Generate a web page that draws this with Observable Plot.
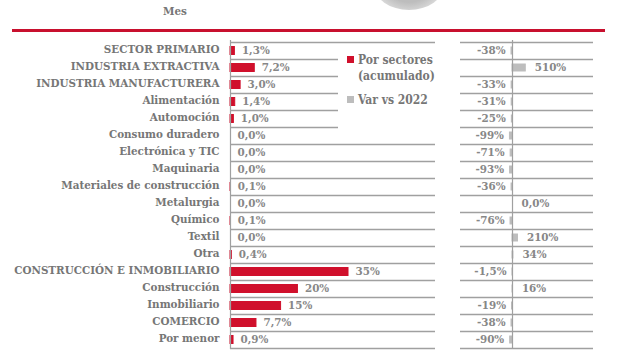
<!DOCTYPE html>
<html>
<head>
<meta charset="utf-8">
<script src="https://cdn.jsdelivr.net/npm/d3@7"></script>
<script src="https://cdn.jsdelivr.net/npm/@observablehq/plot@0.6"></script>
<style>
  html, body { margin: 0; padding: 0; background: #fff; }
  #wrap { position: relative; width: 620px; height: 350px; overflow: hidden; background: #fff;
    font-family: "DejaVu Serif Condensed", "DejaVu Serif", serif; font-weight: bold; color: #767676; }
  #mes { position: absolute; left: 163px; top: 4px; font-size: 11.5px; }
  #blob { position: absolute; left: 374px; top: -40px; width: 70px; height: 50px; border-radius: 50%;
    background: radial-gradient(ellipse at 50% 30%, #bdbdbd 55%, #d8d8d8 75%, #f2f2f2 100%); }
  #redline { position: absolute; left: 12px; top: 29px; width: 593px; height: 3px; background: #c8102e; }
  #legend { position: absolute; left: 338px; top: 50px; width: 100px; height: 86px; background: #fff; font-size: 12px; line-height: 18px; }
  #legend .sw { display: inline-block; width: 7px; height: 7px; margin-right: 4px; vertical-align: 1px; }
  #legend .row { position: absolute; left: 9px; white-space: nowrap; }
</style>
</head>
<body>
<div id="wrap">
  <div id="blob"></div>
  <div id="mes">Mes</div>
  <div id="redline"></div>
</div>
<script>
const categories = [
  "SECTOR PRIMARIO", "INDUSTRIA EXTRACTIVA", "INDUSTRIA MANUFACTURERA", "Alimentación",
  "Automoción", "Consumo duradero", "Electrónica y TIC", "Maquinaria",
  "Materiales de construcción", "Metalurgia", "Químico", "Textil", "Otra",
  "CONSTRUCCIÓN E INMOBILIARIO", "Construcción", "Inmobiliario", "COMERCIO", "Por menor"
];
const sectorValues = [1.3, 7.2, 3.0, 1.4, 1.0, 0.0, 0.0, 0.0, 0.1, 0.0, 0.1, 0.0, 0.4, 35, 20, 15, 7.7, 0.9];
const varValues = [-38, 510, -33, -31, -25, -99, -71, -93, -36, 0.0, -76, 210, 34, -1.5, 16, -19, -38, -90];
const seriesNames = ["Por sectores", "(acumulado)", "Var vs 2022"];

const RED = "#d0102c", GREY = "#bdbdbd", LINE = "#a0a0a0", TXT = "#767676", LBL = "#878787";
const FONT = '"DejaVu Serif Condensed", "DejaVu Serif", serif';
const FS = 11.5;
const fmt = v => (Math.abs(v) >= 10 ? String(Math.round(v)) : v.toFixed(1).replace(".", ",")) + "%";

const left = categories.map((c, i) => ({cat: c, v: sectorValues[i]}));
const right = categories.map((c, i) => ({cat: c, v: varValues[i]}));

const H = 350, MT = 40, MB = 1;
const step = (H - MT - MB) / categories.length;
const wrap = document.getElementById("wrap");
const style = {background: "transparent", fontFamily: FONT, fontWeight: "bold", overflow: "visible"};

const leftPlot = Plot.plot({
  width: 620, height: H, marginTop: MT, marginBottom: MB, marginLeft: 230, marginRight: 185,
  x: {domain: [0, 60.8], axis: null},
  y: {domain: categories, padding: 0, axis: null},
  style,
  marks: [
    Plot.ruleY(categories, {y: d => d, dy: -step / 2, x1: 0, x2: 60.8, stroke: LINE, strokeWidth: 1.5}),
    Plot.ruleY(categories.slice(-1), {y: d => d, dy: step / 2, x1: 0, x2: 60.8, stroke: LINE, strokeWidth: 1.5}),
    Plot.barX(left, {x: "v", y: "cat", fill: RED, stroke: RED, strokeWidth: 1, insetTop: 4.5, insetBottom: 4.5}),
    Plot.ruleX([0], {stroke: LINE, strokeWidth: 1.2}),
    Plot.text(left, {x: "v", y: "cat", text: d => fmt(d.v), dx: 7, dy: -1, textAnchor: "start", fill: LBL, fontSize: FS}),
    Plot.text(categories, {x: 0, y: d => d, dx: -11, dy: -1.5, textAnchor: "end", fill: TXT, fontSize: FS})
  ]
});
leftPlot.style.position = "absolute"; leftPlot.style.left = "0px"; leftPlot.style.top = "0px";
wrap.appendChild(leftPlot);

const RD = [-2000, 3115];
const rightPlot = Plot.plot({
  width: 620, height: H, marginTop: MT, marginBottom: MB, marginLeft: 460, marginRight: 27,
  x: {domain: RD, axis: null},
  y: {domain: categories, padding: 0, axis: null},
  style,
  marks: [
    Plot.ruleY(categories, {y: d => d, dy: -step / 2, x1: RD[0], x2: RD[1], stroke: LINE, strokeWidth: 1.5}),
    Plot.ruleY(categories.slice(-1), {y: d => d, dy: step / 2, x1: RD[0], x2: RD[1], stroke: LINE, strokeWidth: 1.5}),
    Plot.barX(right, {x: "v", y: "cat", fill: GREY, stroke: GREY, strokeWidth: 1, insetTop: 5, insetBottom: 5}),
    Plot.ruleX([0], {stroke: LINE, strokeWidth: 1.2}),
    Plot.text(right.filter(d => d.v < 0), {x: "v", y: "cat", text: d => fmt(d.v), dx: -6, dy: -1, textAnchor: "end", fill: LBL, fontSize: FS}),
    Plot.text(right.filter(d => d.v >= 0), {x: "v", y: "cat", text: d => fmt(d.v), dx: 9, dy: -1, textAnchor: "start", fill: LBL, fontSize: FS})
  ]
});
rightPlot.style.position = "absolute"; rightPlot.style.left = "0px"; rightPlot.style.top = "0px";
wrap.appendChild(rightPlot);

const legend = document.createElement("div");
legend.id = "legend";
legend.innerHTML =
  `<div class="row" style="top:1px"><span class="sw" style="background:${RED}"></span>${seriesNames[0]}</div>` +
  `<div class="row" style="top:17px;left:20px">${seriesNames[1]}</div>` +
  `<div class="row" style="top:41px"><span class="sw" style="background:${GREY}"></span>${seriesNames[2]}</div>`;
wrap.appendChild(legend);
</script>
</body>
</html>
